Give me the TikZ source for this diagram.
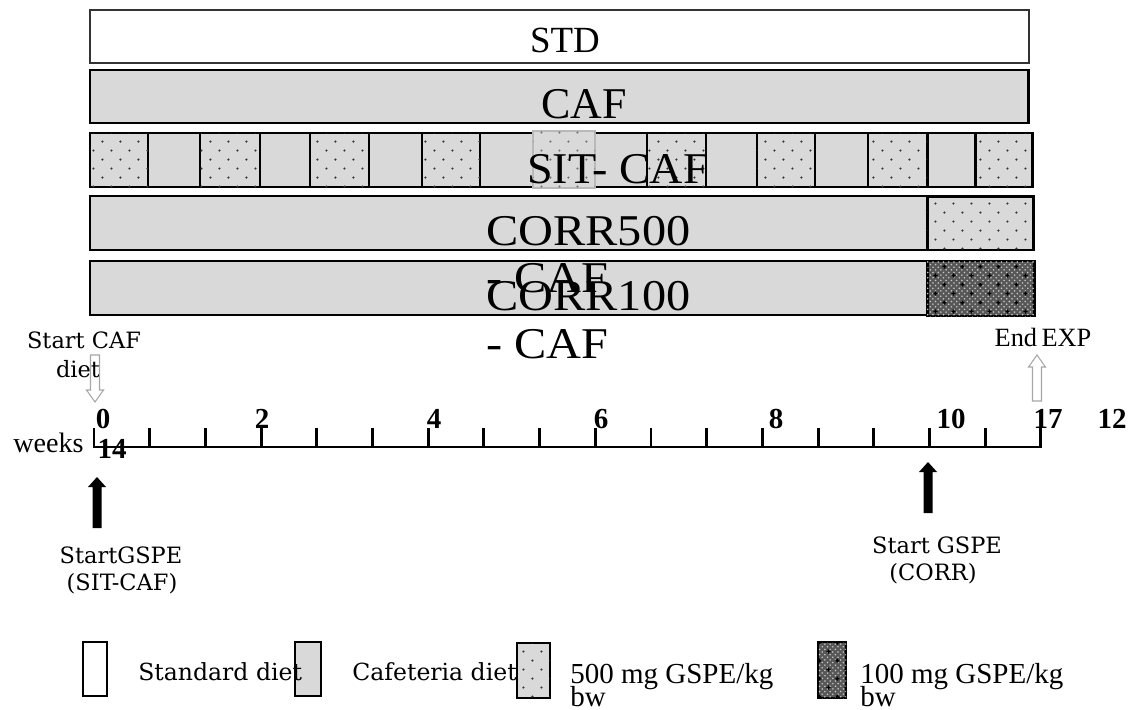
\documentclass[tikz,border=0pt]{standalone}
\usepackage{fontspec}
\setmainfont{Liberation Serif}
\newfontfamily\dvserif{DejaVu Serif}
\usetikzlibrary{patterns}
\definecolor{cafgray}{RGB}{217,217,217}

% sparse staggered dots for the 500 mg blocks
\pgfdeclarepatternformonly{gspedots}{\pgfpointorigin}{\pgfqpoint{10.2pt}{10.2pt}}{\pgfqpoint{10.2pt}{10.2pt}}{
  \pgfpathcircle{\pgfqpoint{2.55pt}{2.55pt}}{0.7pt}
  \pgfpathcircle{\pgfqpoint{7.65pt}{7.65pt}}{0.7pt}
  \pgfusepath{fill}}
% plus marks for the 100 mg blocks
\pgfdeclarepatternformonly{gspeplus}{\pgfpointorigin}{\pgfqpoint{10.2pt}{10.2pt}}{\pgfqpoint{10.2pt}{10.2pt}}{
  \pgfsetlinewidth{0.8pt}
  \pgfpathmoveto{\pgfqpoint{1.4pt}{2.55pt}}\pgfpathlineto{\pgfqpoint{3.7pt}{2.55pt}}
  \pgfpathmoveto{\pgfqpoint{2.55pt}{1.4pt}}\pgfpathlineto{\pgfqpoint{2.55pt}{3.7pt}}
  \pgfpathmoveto{\pgfqpoint{6.5pt}{7.65pt}}\pgfpathlineto{\pgfqpoint{8.8pt}{7.65pt}}
  \pgfpathmoveto{\pgfqpoint{7.65pt}{6.5pt}}\pgfpathlineto{\pgfqpoint{7.65pt}{8.8pt}}
  \pgfusepath{stroke}}

\tikzset{
  bar/.style={draw, line width=1.7pt, fill=cafgray},
  dot500/.style={postaction={pattern=gspedots, pattern color=black!80}},
  dark100/.style={fill=black!66, postaction={pattern=crosshatch dots, pattern color=gray!45},
    postaction={pattern=gspeplus, pattern color=black}},
  barlab/.style={font=\fontsize{25}{30}\selectfont, inner sep=0pt},
  ticklab/.style={anchor=base, font=\bfseries\fontsize{16.5}{19}\selectfont, inner sep=0pt},
  note/.style={anchor=base, font=\dvserif\fontsize{12.8}{16}\selectfont, inner sep=0pt},
  legtext/.style={anchor=base west, inner sep=0pt}
}

\begin{document}
\begin{tikzpicture}[x=0.02cm, y=-0.02cm]
\useasboundingbox (0,0) rectangle (1137,710);

% diet bars
\draw[line width=0.9pt, draw=black!80, fill=white] (90,10) rectangle (1029,63);
\node[anchor=base, font=\fontsize{21}{25}\selectfont, inner sep=0pt] (std) at (565,52) {STD};
\draw[bar] (90,70) rectangle (1028,123);
\node[barlab, anchor=base] (caf) at (584,118) {CAF};
\draw[bar] (90,133) rectangle (1032,187);
\foreach \a/\b in {90/148,200/260,310/369,422/480,647/706,757/815,868/927,975/1032}
  \draw[bar, dot500] (\a,133) rectangle (\b,187);
\draw[line width=0.8pt, draw=gray!55, fill=cafgray, postaction={pattern=gspedots, pattern color=black!55}] (533,131) rectangle (595,188);
\node[barlab, anchor=base] (sitcaf) at (618,183) {\scalebox{1.05}[1]{SIT- CAF}};
\draw[bar] (90,196) rectangle (1033,250);
\draw[bar, dot500] (927,197) rectangle (1033,250);
\draw[bar] (90,261) rectangle (1034,315);
\draw[bar, dark100] (927,261) rectangle (1034,316);
\node[barlab, anchor=base west] (corr500a) at (486,245) {\scalebox{1.1}[1]{CORR500}};
\node[barlab, anchor=base west] (corr500b) at (486,292) {\scalebox{1.1}[1]{- CAF}};
\node[barlab, anchor=base west] (corr100a) at (486,310) {\scalebox{1.1}[1]{CORR100}};
\node[barlab, anchor=base west] (corr100b) at (486,358) {\scalebox{1.1}[1]{- CAF}};

% time axis
\draw[line width=1.7pt] (93,447) -- (1041,447);
\foreach \i in {0,...,17}
  \draw[line width=1.7pt] ({94+55.7*\i},448) -- ++(0,-20);
\foreach \lab/\xx in {0/103,2/262,4/434,6/601,8/776,10/951,17/1048,12/1112}
  \node[ticklab] (t\lab) at (\xx,428) {\lab};
\node[ticklab] (t14) at (112,458) {14};
\node[anchor=base west, font=\fontsize{16}{19}\selectfont, inner sep=0pt] (weeks) at (13,452) {weeks};

% start / end markers
\node[note] (cafstart1) at (84,348) {Start CAF};
\node[note] (cafstart2) at (78,377) {diet};
\draw[draw=gray!70, line width=0.6pt] (90.5,355) -- (99.5,355) -- (99.5,390) -- (103.5,390)
  -- (95,402) -- (86.5,390) -- (90.5,390) -- cycle;
\node[anchor=base, font=\fontsize{15}{18}\selectfont, inner sep=0pt] (endexp) at (1043,346) {End\,EXP};
\filldraw[draw=gray!70, fill=white, line width=0.6pt] (1032.5,401) -- (1041.5,401) -- (1041.5,367) -- (1045.5,367)
  -- (1037,355) -- (1028.5,367) -- (1032.5,367) -- cycle;

\fill (92.5,528) -- (101.5,528) -- (101.5,487) -- (106,487) -- (97,477) -- (88,487) -- (92.5,487) -- cycle;
\node[note] (gspe1a) at (121,563) {StartGSPE};
\node[note] (gspe1b) at (122,590) {(SIT-CAF)};
\fill (923.5,513) -- (932.5,513) -- (932.5,472) -- (937,472) -- (928,462) -- (919,472) -- (923.5,472) -- cycle;
\node[note] (gspe2a) at (937,553) {Start GSPE};
\node[note] (gspe2b) at (933,580) {(CORR)};

% legend
\draw[line width=0.8pt, fill=white] (83,642) rectangle (107,696);
\draw[line width=1pt, fill=cafgray] (295,642) rectangle (321,696);
\draw[bar, dot500] (517,643) rectangle (550,698);
\draw[bar, dark100] (818,642) rectangle (846,698);
\node[legtext, font=\dvserif\fontsize{13.4}{16}\selectfont] (legstd) at (138,680) {Standard diet};
\node[legtext, font=\dvserif\fontsize{13.4}{16}\selectfont] (legcaf) at (352,680) {Cafeteria diet};
\node[legtext, font=\fontsize{16.5}{18}\selectfont] (leg500a) at (570,683) {500 mg GSPE/kg};
\node[legtext, font=\fontsize{16.5}{18}\selectfont] (leg500b) at (570,706) {bw};
\node[legtext, font=\fontsize{16.5}{18}\selectfont] (leg100a) at (860,683) {100 mg GSPE/kg};
\node[legtext, font=\fontsize{16.5}{18}\selectfont] (leg100b) at (860,706) {bw};
\end{tikzpicture}
\end{document}
